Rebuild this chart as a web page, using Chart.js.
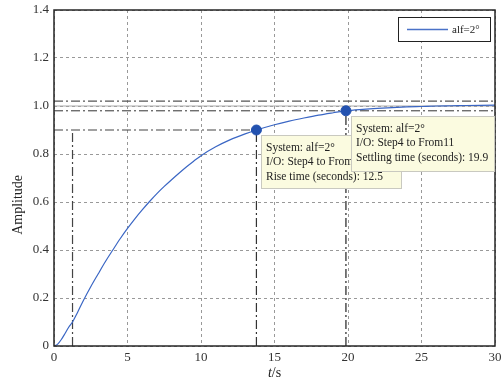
<!DOCTYPE html>
<html>
<head>
<meta charset="utf-8">
<script src="https://cdn.jsdelivr.net/npm/chart.js@4"></script>
<style>
  body { margin: 0; background: #fff; }
  canvas { display: block; }
</style>
</head>
<body>
<canvas id="c" width="502" height="384"></canvas>
<script>
// step response
const timeS = [0, 0.25, 0.5, 0.75, 1, 1.26, 1.6, 2, 2.5, 3, 3.5, 4, 4.5, 5, 5.5, 6, 6.5, 7, 7.5, 8, 8.5, 9, 9.5, 10,
  11, 12, 13, 13.77, 15, 16, 17, 18, 19, 19.86, 21, 22, 23, 24, 25, 26, 27, 28, 29, 30];
const amplitude = [0, 0.008, 0.027, 0.052, 0.078, 0.1, 0.14, 0.19, 0.247, 0.3, 0.352, 0.4, 0.447, 0.49, 0.53, 0.567, 0.602,
  0.635, 0.665, 0.693, 0.72, 0.746, 0.77, 0.793, 0.83, 0.86, 0.884, 0.9, 0.922, 0.937, 0.95, 0.962, 0.972, 0.98,
  0.986, 0.99, 0.993, 0.996, 0.998, 1.0, 1.001, 1.002, 1.003, 1.004];

const seriesName = 'alf=2°';
const riseStart = 1.26, riseEnd = 13.77, riseLevel = 0.9;
const settleTime = 19.86, settleLevel = 0.98;
const bandHigh = 1.02, bandLow = 0.98, finalValue = 1.0;

const riseTip = ['System: alf=2°', 'I/O: Step4 to From', 'Rise time (seconds): 12.5'];
const settleTip = ['System: alf=2°', 'I/O: Step4 to From11', 'Settling time (seconds): 19.9'];

const FONT = '"Liberation Serif", "Times New Roman", serif';
const dashDot = [9, 3, 2, 3];

function refLine(points, color, dash, width) {
  return {
    data: points, showLine: true, pointRadius: 0, borderColor: color,
    borderDash: dash, borderWidth: width || 1, order: 3, tension: 0
  };
}

const extras = {
  id: 'extras',
  afterDatasetsDraw(chart) {
    const ctx = chart.ctx;
    const a = chart.chartArea;
    const xs = chart.scales.x, ys = chart.scales.y;

    // frame
    ctx.save();
    ctx.strokeStyle = '#262626';
    ctx.lineWidth = 1.5;
    ctx.strokeRect(a.left, a.top, a.right - a.left, a.bottom - a.top);

    // data tips
    function tip(tx, ty, lines, w, h) {
      const px = Math.round(xs.getPixelForValue(tx)) + 5;
      const py = Math.round(ys.getPixelForValue(ty)) + 5;
      ctx.fillStyle = '#fbfbe0';
      ctx.fillRect(px, py, w, h);
      ctx.strokeStyle = '#c9c9c0';
      ctx.lineWidth = 1;
      ctx.strokeRect(px + 0.5, py + 0.5, w, h);
      ctx.fillStyle = '#222';
      ctx.font = '11.5px ' + FONT;
      ctx.textBaseline = 'middle';
      ctx.textAlign = 'left';
      lines.forEach((s, i) => ctx.fillText(s, px + 5, py + 12.5 + i * 14.5));
    }
    tip(riseEnd, riseLevel, riseTip, 140, 53);
    tip(settleTime, settleLevel, settleTip, 143, 55);

    // legend
    const lx = a.right - 97, ly = a.top + 7;
    ctx.fillStyle = '#fff';
    ctx.fillRect(lx, ly, 92, 24);
    ctx.strokeStyle = '#222';
    ctx.lineWidth = 1;
    ctx.strokeRect(lx + 0.5, ly + 0.5, 92, 24);
    ctx.strokeStyle = '#4a72c8';
    ctx.lineWidth = 1.4;
    ctx.beginPath();
    ctx.moveTo(lx + 9, ly + 12.5);
    ctx.lineTo(lx + 50, ly + 12.5);
    ctx.stroke();
    ctx.fillStyle = '#222';
    ctx.font = '11px ' + FONT;
    ctx.textBaseline = 'middle';
    ctx.fillText(seriesName, lx + 54, ly + 13);

    // axis titles
    ctx.font = '14px ' + FONT;
    ctx.textAlign = 'center';
    ctx.save();
    ctx.translate(18, a.top + (a.bottom - a.top) * 0.58);
    ctx.rotate(-Math.PI / 2);
    ctx.fillText('Amplitude', 0, 0);
    ctx.restore();
    const cx = (a.left + a.right) / 2;
    ctx.font = 'italic 14px ' + FONT;
    const tw = ctx.measureText('t').width;
    ctx.font = '14px ' + FONT;
    const sw = ctx.measureText('/s').width;
    ctx.textAlign = 'left';
    ctx.font = 'italic 14px ' + FONT;
    ctx.fillText('t', cx - (tw + sw) / 2, 373);
    ctx.font = '14px ' + FONT;
    ctx.fillText('/s', cx - (tw + sw) / 2 + tw, 373);
    ctx.restore();
  }
};

new Chart(document.getElementById('c'), {
  type: 'scatter',
  data: {
    datasets: [
      {
        data: [{ x: riseEnd, y: riseLevel }, { x: settleTime, y: settleLevel }],
        pointRadius: 5, pointBackgroundColor: '#2352b0', pointBorderColor: '#2352b0', order: 0
      },
      {
        label: seriesName,
        data: timeS.map((t, i) => ({ x: t, y: amplitude[i] })),
        showLine: true, pointRadius: 0, borderColor: '#3a66c4', borderWidth: 1.2,
        cubicInterpolationMode: 'monotone', order: 1
      },
      refLine([{ x: 0, y: bandHigh }, { x: 30, y: bandHigh }], '#555', dashDot, 1.2),
      refLine([{ x: 0, y: finalValue }, { x: 30, y: finalValue }], '#aaa', [], 1),
      refLine([{ x: 0, y: bandLow }, { x: 30, y: bandLow }], '#333', dashDot, 1),
      refLine([{ x: 0, y: riseLevel }, { x: riseEnd, y: riseLevel }], '#444', dashDot, 1.2),
      refLine([{ x: riseStart, y: 0 }, { x: riseStart, y: riseLevel }], '#444', dashDot, 1.2),
      refLine([{ x: riseEnd, y: 0 }, { x: riseEnd, y: riseLevel }], '#333', dashDot, 1.2),
      refLine([{ x: settleTime, y: 0 }, { x: settleTime, y: settleLevel }], '#222', dashDot, 1.2)
    ]
  },
  plugins: [extras],
  options: {
    responsive: false,
    animation: false,
    devicePixelRatio: 1,
    layout: { padding: 0 },
    plugins: { legend: { display: false }, tooltip: { enabled: false } },
    scales: {
      x: {
        type: 'linear', min: 0, max: 30,
        afterFit(s) { s.height = 38; s.paddingLeft = 0; s.paddingRight = 7; },
        border: { display: false, dash: [3, 3] },
        grid: { color: '#999', drawTicks: false, lineWidth: 1 },
        ticks: { stepSize: 5, padding: 4, color: '#333', font: { family: FONT, size: 13 }, maxRotation: 0 }
      },
      y: {
        type: 'linear', min: 0, max: 1.4,
        afterFit(s) { s.width = 54; s.paddingTop = 10; s.paddingBottom = 0; },
        border: { display: false, dash: [3, 3] },
        grid: { color: '#999', drawTicks: false, lineWidth: 1 },
        ticks: {
          stepSize: 0.2, padding: 5, color: '#333', font: { family: FONT, size: 13 },
          callback: v => (v === 0 ? '0' : v.toFixed(1))
        }
      }
    }
  }
});
</script>
</body>
</html>
